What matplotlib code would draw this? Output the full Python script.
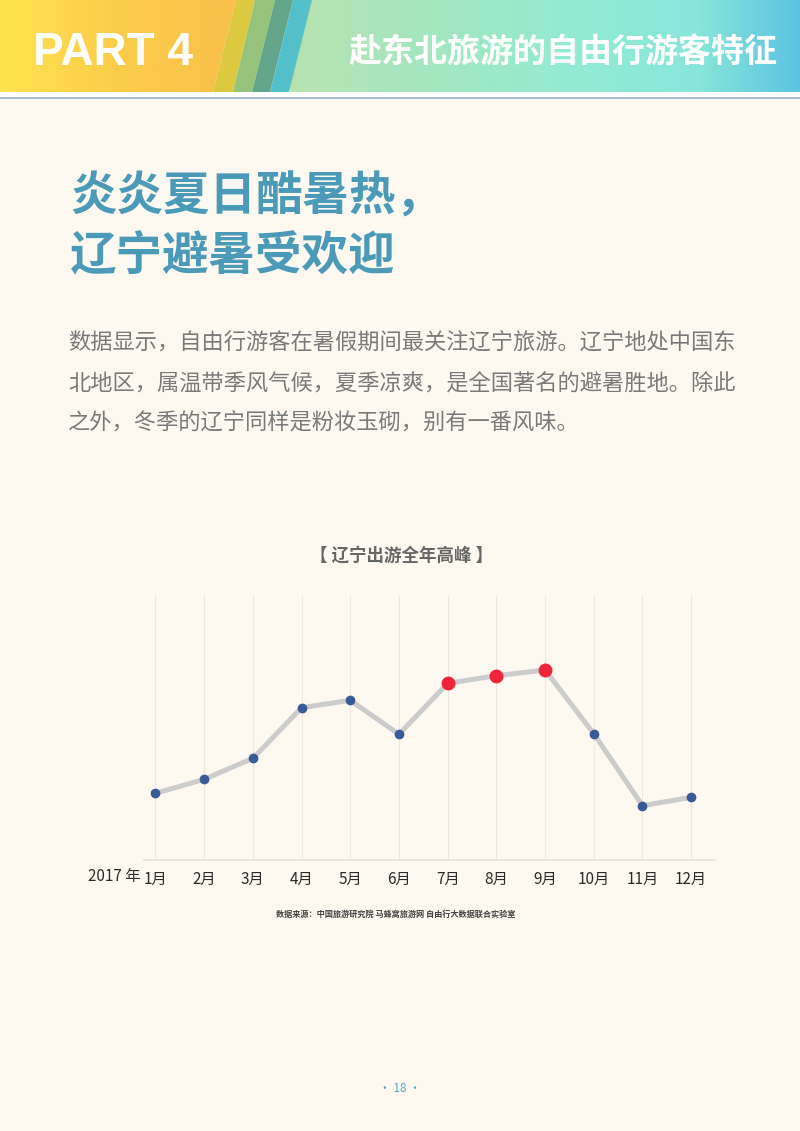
import numpy as np
import matplotlib
matplotlib.use("Agg")
import matplotlib.pyplot as plt
from matplotlib.patches import Polygon, Rectangle
from matplotlib.colors import LinearSegmentedColormap

plt.rcParams['font.family'] = ['Noto Sans CJK SC', 'DejaVu Sans']

# ---------------- data ----------------
months = ["1月", "2月", "3月", "4月", "5月", "6月", "7月", "8月", "9月", "10月", "11月", "12月"]
values = [66.7, 80.7, 101.7, 152.3, 159.7, 125.7, 176.7, 184.3, 190.0, 126.3, 54.3, 62.7]
peak_months = ["7月", "8月", "9月"]
year_label = "2017 年"
header_left = "PART 4"
header_right = "赴东北旅游的自由行游客特征"
title_lines = ["炎炎夏日酷暑热，", "辽宁避暑受欢迎"]
para_lines = ["数据显示，自由行游客在暑假期间最关注辽宁旅游。辽宁地处中国东",
              "北地区，属温带季风气候，夏季凉爽，是全国著名的避暑胜地。除此",
              "之外，冬季的辽宁同样是粉妆玉砌，别有一番风味。"]
chart_title = "【 辽宁出游全年高峰 】"
source = "数据来源：中国旅游研究院 马蜂窝旅游网 自由行大数据联合实验室"
page_no = "· 18 ·"

W, H = 800, 1131
BG = "#FDF9F0"
fig = plt.figure(figsize=(W / 100, H / 100), dpi=100, facecolor=BG)

# ---------------- background / header ----------------
bg = fig.add_axes([0, 0, 1, 1])
bg.set_xlim(0, W)
bg.set_ylim(H, 0)
bg.axis("off")
bg.set_facecolor(BG)

cm_r = LinearSegmentedColormap.from_list("r", [(0, "#B8E2B0"), (0.4, "#9BE9C8"), (0.55, "#93EBD3"),
                                                (0.8, "#88E6DA"), (1.0, "#5DC3E3")])
grad = np.linspace(0, 1, 400)[None, :]
bg.imshow(grad, cmap=cm_r, extent=[290, W, 92, 0], aspect="auto", zorder=1)

cm_l = LinearSegmentedColormap.from_list("l", [(0, "#FFE34F"), (0.5, "#FBCC4A"), (1.0, "#F8C04A")])
im = bg.imshow(grad, cmap=cm_l, extent=[0, 240, 92, 0], aspect="auto", zorder=2)
clip = Polygon([(0, 0), (236, 0), (213, 92), (0, 92)], closed=True, transform=bg.transData,
               facecolor="none", edgecolor="none")
bg.add_patch(clip)
im.set_clip_path(clip)

stripes = [((236, 255), (213, 233), "#DCC940"),
           ((255, 275), (233, 252), "#95C37C"),
           ((275, 293), (252, 270), "#63A689"),
           ((293, 312), (270, 289), "#54C0C9")]
for (t0, t1), (b0, b1), c in stripes:
    bg.add_patch(Polygon([(t0, 0), (t1, 0), (b1, 92), (b0, 92)], closed=True,
                         facecolor=c, edgecolor="none", zorder=3))
bg.add_patch(Rectangle((0, 92), W, 4.5, facecolor="#FFFFFF", edgecolor="none", zorder=3))
bg.add_patch(Rectangle((0, 96.5), W, 2.5, facecolor="#A9BFD2", edgecolor="none", zorder=3))

bg.text(33, 53, header_left, family=["Liberation Sans"], fontweight="bold", fontsize=33,
        color="white", ha="left", va="center", zorder=5)
bg.text(778, 53, header_right, fontweight="bold", fontsize=23.8, color="white",
        ha="right", va="center", zorder=5)

# titles
bg.text(70, 197, title_lines[0], fontweight="bold", fontsize=33.5, color="#4A9AB8",
        ha="left", va="center")
bg.text(70, 256, title_lines[1], fontweight="bold", fontsize=33.5, color="#4A9AB8",
        ha="left", va="center")

for i, line in enumerate(para_lines):
    bg.text(68, 343 + 40 * i, line, fontsize=16, color="#7A7A7A", ha="left", va="center")

bg.text(402, 556, chart_title, fontsize=12.6, fontweight="bold", color="#666666",
        ha="center", va="center")
bg.text(396, 914, source, fontsize=5.9, fontweight="bold", color="#444444",
        ha="center", va="center")
bg.text(400, 1088, page_no, fontsize=8.5, color="#5BA5C0", ha="center", va="center")

# ---------------- chart ----------------
left_px, right_px, base_px, top_px = 143.5, 715, 860, 595
ax = fig.add_axes([left_px / W, 1 - base_px / H, (right_px - left_px) / W, (base_px - top_px) / H])
ax.set_facecolor("none")
x = np.arange(1, len(months) + 1)
ax.set_xlim(0.754, 12.489)
ax.set_ylim(0, 265)
for xi in x:
    ax.axvline(xi, color="#EDE9E2", lw=0.8, zorder=1)
ax.plot(x, values, color="#CCCCCC", lw=3.6, solid_joinstyle="round", zorder=2)
blue = [i for i, m in enumerate(months) if m not in peak_months]
red = [i for i, m in enumerate(months) if m in peak_months]
ax.plot(x[blue], np.array(values)[blue], "o", color="#3A5B98", ms=6, zorder=3)
ax.plot(x[red], np.array(values)[red], "o", color="#F0243A", ms=9, zorder=3)

for s in ["top", "right", "left"]:
    ax.spines[s].set_visible(False)
ax.spines["bottom"].set_color("#E8E2DA")
ax.spines["bottom"].set_linewidth(1.2)
ax.set_yticks([])
ax.set_xticks(x)
ax.set_xticklabels(months, fontsize=11, color="#2B2B2B")
ax.tick_params(axis="x", length=0, pad=8)
bg.text(141, 877, year_label, fontsize=11, color="#2B2B2B", ha="right", va="center")

fig.savefig("out.png", dpi=100, facecolor=BG)
